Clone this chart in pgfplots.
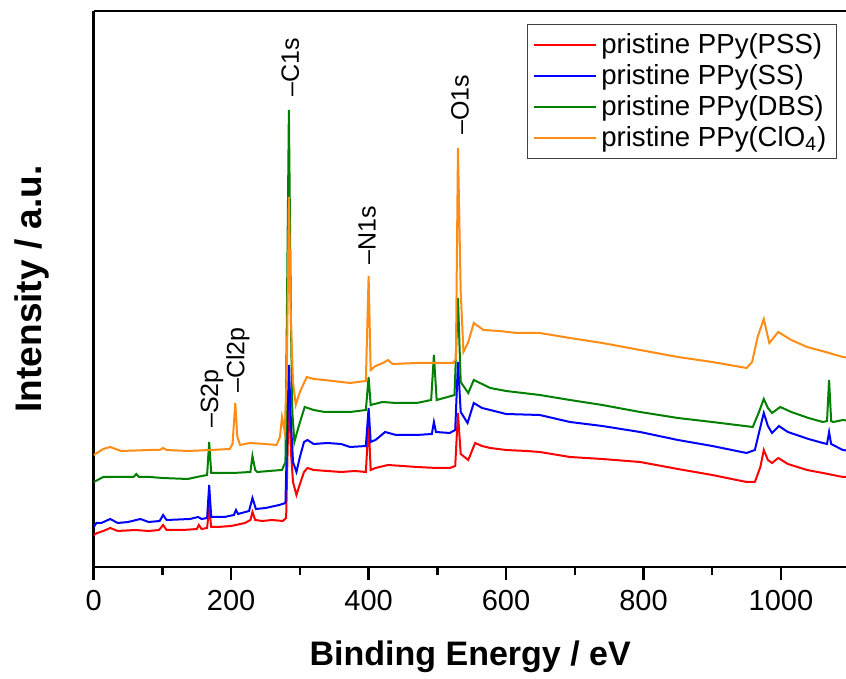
\documentclass[border=0pt]{standalone}
\usepackage{fontspec}
\setmainfont{Liberation Sans}
\usepackage{pgfplots}
\pgfplotsset{compat=1.18}

\definecolor{cRed}{RGB}{255,0,0}
\definecolor{cBlue}{RGB}{0,0,255}
\definecolor{cGreen}{RGB}{0,128,0}
\definecolor{cOrange}{RGB}{255,140,20}

\pgfplotsset{
  legend image code/.code={\draw[#1] (0pt,0pt) -- (31pt,0pt);},
}

\begin{document}
\begin{tikzpicture}
\useasboundingbox (-46.85pt,-56pt) rectangle (376.15pt,283.5pt);
\begin{axis}[
  at={(0pt,0pt)}, anchor=south west,
  scale only axis, width=378pt, height=278pt,
  xmin=0, xmax=1100, ymin=5, ymax=561,
  separate axis lines,
  axis x line*=box, axis y line*=left,
  x axis line style={-}, y axis line style={-},
  axis line style={line width=1.4pt},
  ytick=\empty,
  xtick={0,200,...,1000},
  minor xtick={100,300,500,700,900},
  xtick pos=left,
  tick align=outside,
  major tick length=6.5pt, minor tick length=4pt,
  every tick/.style={black, line width=1.2pt},
  /pgf/number format/assume math mode=true,
  /pgf/number format/1000 sep={},
  ticklabel style={font=\fontsize{14.5}{17}\selectfont},
  xticklabel style={yshift=-1.5pt},
  xlabel={\textbf{Binding Energy / eV}},
  ylabel={\textbf{Intensity / a.u.}},
  xlabel style={font=\fontsize{17}{20}\selectfont, at={(axis description cs:0.498,-0.162)}, anchor=center},
  ylabel style={font=\fontsize{18.5}{22}\selectfont, at={(axis description cs:-0.082,0.5)}, anchor=center},
  legend style={at={(0.983,0.977)}, anchor=north east, draw=black!75,
    line width=0.6pt, font=\fontsize{13.8}{16.5}\selectfont,
    inner xsep=3pt, inner ysep=2.5pt, row sep=0pt},
  legend cell align=left,
  every axis plot/.append style={line width=1pt},
]
\addplot[cRed] coordinates {(0,37) (5,39) (14,41) (24,44) (35,41) (60,42) (80,41) (95,42) (101,47) (106,42) (130,42) (150,43) (153,47) (157,43) (165,44) (168,65) (171,45) (180,45) (200,46) (220,49) (228,52) (231,60) (235,52) (245,51) (260,52) (275,51) (280,54) (284,180) (287,120) (290,90) (295,77) (300,88) (306,100) (311,104) (320,102) (340,101) (360,100) (380,101) (396,100) (400,150) (403,102) (410,104) (428,107) (450,106) (470,105) (500,104) (518,104) (526,106) (530,159) (534,118) (545,112) (555,129) (565,126) (577,124) (600,122) (630,121) (649,120) (693,115) (740,113) (795,110) (850,103) (900,97) (950,90) (962,90) (970,105) (975,122) (981,112) (987,109) (996,114) (1010,108) (1038,102) (1061,99) (1090,95) (1100,95)};
\addlegendentry{pristine PPy(PSS)}
\addplot[cBlue] coordinates {(0,45) (4,49) (11,49) (24,53) (35,49) (50,50) (68,53) (80,50) (96,51) (101,57) (106,52) (140,53) (152,55) (157,53) (165,54) (168,87) (171,55) (190,55) (204,57) (207,62) (210,58) (226,61) (231,74) (236,63) (250,64) (270,67) (279,69) (284,207) (287,150) (290,110) (295,100) (300,115) (306,130) (311,132) (320,128) (340,129) (360,128) (373,125) (396,126) (400,164) (403,130) (410,132) (424,140) (440,137) (470,137) (492,138) (495,150) (498,140) (518,139) (526,142) (530,210) (534,160) (544,149) (553,169) (565,164) (577,162) (600,158) (649,157) (693,150) (740,146) (795,140) (850,132) (900,126) (950,119) (962,122) (970,145) (975,159) (981,146) (987,139) (997,146) (1010,140) (1040,133) (1061,129) (1067,128) (1070,140) (1073,128) (1090,122) (1100,121)};
\addlegendentry{pristine PPy(SS)}
\addplot[cGreen] coordinates {(0,90) (14,95) (28,95) (45,95) (58,95) (62,98) (66,95) (82,95) (100,94) (137,93) (150,95) (165,97) (168,130) (171,99) (190,99) (203,99) (228,100) (231,116) (235,102) (238,100) (255,101) (274,102) (279,110) (284,462) (287,250) (289,160) (292,130) (298,145) (307,165) (320,162) (336,160) (373,160) (396,162) (400,195) (403,167) (420,170) (440,169) (470,169) (491,172) (495,217) (499,172) (515,175) (525,177) (530,274) (534,190) (545,179) (553,192) (565,188) (577,184) (600,181) (649,177) (693,172) (740,167) (795,160) (850,154) (900,150) (959,145) (968,160) (975,173) (981,164) (987,159) (999,165) (1015,160) (1040,154) (1061,150) (1067,151) (1070,192) (1073,151) (1076,150) (1090,152) (1100,151)};
\addlegendentry{pristine PPy(DBS)}
\addplot[cOrange] coordinates {(0,117) (14,123) (24,125) (40,121) (82,122) (96,122) (101,124) (106,122) (137,121) (170,122) (198,123) (202,128) (206,169) (209,135) (213,127) (227,129) (250,128) (266,127) (271,135) (274,155) (278,140) (281,200) (284,375) (287,250) (290,190) (294,167) (300,180) (310,195) (320,193) (336,192) (373,189) (396,191) (400,296) (403,202) (410,206) (421,209) (428,212) (435,208) (470,209) (500,209) (523,209) (527,213) (530,424) (534,280) (538,220) (545,230) (553,249) (567,242) (590,241) (616,239) (649,239) (693,234) (740,229) (795,222) (850,215) (900,210) (950,204) (958,210) (966,235) (975,253) (983,229) (996,240) (1015,232) (1038,225) (1065,220) (1090,215) (1100,214)};
\addlegendentry{pristine PPy(ClO\textsubscript{4})}
\begin{scope}[every node/.style={rotate=90, anchor=west, inner sep=0pt, font=\fontsize{12.5}{15}\selectfont}]
\node at (axis cs:286,475) {\textendash C1s};
\node at (axis cs:533,437) {\textendash O1s};
\node at (axis cs:398,307) {\textendash N1s};
\node at (axis cs:172,144) {\textendash S2p};
\node at (axis cs:210,179) {\textendash Cl2p};
\end{scope}
\end{axis}
\end{tikzpicture}
\end{document}
